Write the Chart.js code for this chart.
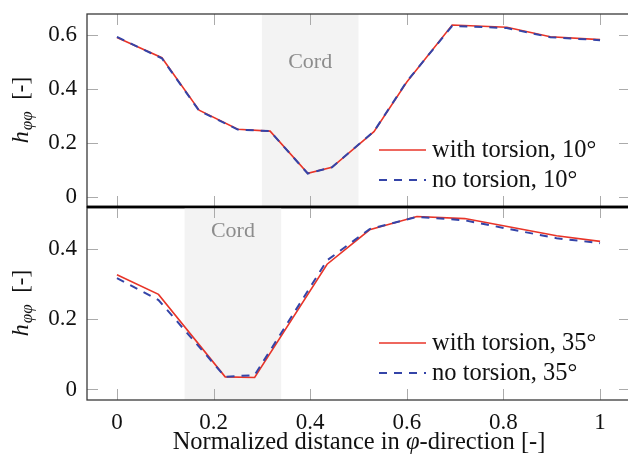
<!DOCTYPE html>
<html>
<head>
<meta charset="utf-8">
<script src="https://cdn.jsdelivr.net/npm/chart.js@4.4.1/dist/chart.umd.min.js"></script>
<style>
  html, body { margin: 0; padding: 0; background: #fff; overflow: hidden; }
  #wrap { position: relative; width: 628px; height: 459px; overflow: hidden; }
  canvas { position: absolute; left: 0; top: 0; }
</style>
</head>
<body>
<div id="wrap">
  <canvas id="topChart" width="632" height="459"></canvas>
  <canvas id="botChart" width="632" height="459"></canvas>
</div>
<script>
// data
const xTop = [0, 0.093, 0.170, 0.250, 0.317, 0.395, 0.445, 0.532, 0.600, 0.694, 0.807, 0.897, 1.0];
const withTorsion10 = [0.591, 0.516, 0.322, 0.251, 0.244, 0.088, 0.110, 0.242, 0.426, 0.637, 0.629, 0.594, 0.583];
const noTorsion10 = [0.593, 0.514, 0.320, 0.250, 0.244, 0.087, 0.110, 0.243, 0.428, 0.634, 0.626, 0.592, 0.581];

const xBot = [0, 0.086, 0.224, 0.285, 0.435, 0.523, 0.621, 0.720, 0.910, 1.0];
const withTorsion35 = [0.327, 0.271, 0.036, 0.034, 0.357, 0.455, 0.493, 0.487, 0.438, 0.422];
const noTorsion35 = [0.317, 0.255, 0.036, 0.041, 0.368, 0.457, 0.492, 0.482, 0.431, 0.417];

const cordTop = [0.30, 0.50];
const cordBot = [0.14, 0.34];
const xTicks = [0, 0.2, 0.4, 0.6, 0.8, 1];

const RED = 'rgb(232, 52, 40)';
const BLUE = 'rgb(52, 68, 168)';
const SERIF = '"Liberation Serif", "DejaVu Serif", serif';

function pts(xs, ys) {
  return xs.map((x, i) => ({ x: x, y: ys[i] }));
}

function dsWith(label, xs, ys) {
  return { label, data: pts(xs, ys), borderColor: RED, backgroundColor: RED,
    borderWidth: 1.6, pointRadius: 0, tension: 0, order: 2 };
}
function dsNo(label, xs, ys) {
  return { label, data: pts(xs, ys), borderColor: BLUE, backgroundColor: BLUE,
    borderWidth: 2, borderDash: [8, 7], pointRadius: 0, tension: 0, order: 1 };
}

// shaded cord band + label
function cordPlugin(range, labelY) {
  return {
    id: 'cord',
    beforeDatasetsDraw(chart) {
      const { ctx, chartArea: a, scales } = chart;
      const x0 = scales.x.getPixelForValue(range[0]);
      const x1 = scales.x.getPixelForValue(range[1]);
      ctx.save();
      ctx.fillStyle = '#f3f3f3';
      ctx.fillRect(x0, a.top, x1 - x0, a.bottom - a.top);
      ctx.fillStyle = '#8c8c8c';
      ctx.font = '22px ' + SERIF;
      ctx.textAlign = 'center';
      ctx.textBaseline = 'middle';
      ctx.fillText('Cord', (x0 + x1) / 2, scales.y.getPixelForValue(labelY));
      ctx.restore();
    }
  };
}

// inward ticks, frame, legend, y label
function decoPlugin(isBottom) {
  return {
    id: 'deco',
    afterDraw(chart) {
      const { ctx, chartArea: a, scales } = chart;
      ctx.save();
      ctx.strokeStyle = '#ababab';
      ctx.lineWidth = 1;
      const len = 11;
      xTicks.forEach(v => {
        const px = Math.round(scales.x.getPixelForValue(v)) + 0.5;
        ctx.beginPath();
        ctx.moveTo(px, a.top); ctx.lineTo(px, a.top + len);
        ctx.moveTo(px, a.bottom); ctx.lineTo(px, a.bottom - len);
        ctx.stroke();
      });
      scales.y.ticks.forEach(t => {
        const py = Math.round(scales.y.getPixelForValue(t.value)) + 0.5;
        ctx.beginPath();
        ctx.moveTo(a.left, py); ctx.lineTo(a.left + len, py);
        ctx.moveTo(a.right, py); ctx.lineTo(a.right - len, py);
        ctx.stroke();
      });

      // frame
      ctx.strokeStyle = '#3a3a3a';
      ctx.lineWidth = 1.3;
      ctx.strokeRect(a.left, a.top, a.right - a.left, a.bottom - a.top);
      ctx.strokeStyle = '#000';
      ctx.lineWidth = 2.6;
      ctx.beginPath();
      const mid = isBottom ? a.top : a.bottom;
      ctx.moveTo(a.left, mid); ctx.lineTo(a.right, mid);
      ctx.stroke();

      // legend
      const rows = [a.bottom - 57, a.bottom - 27];
      chart.data.datasets.forEach((d, i) => {
        const y = rows[i];
        ctx.strokeStyle = d.borderColor;
        ctx.lineWidth = d.borderWidth;
        ctx.setLineDash(d.borderDash || []);
        ctx.beginPath();
        ctx.moveTo(379, y); ctx.lineTo(426, y);
        ctx.stroke();
        ctx.setLineDash([]);
        ctx.fillStyle = '#111';
        ctx.font = '24.5px ' + SERIF;
        ctx.textAlign = 'left';
        ctx.textBaseline = 'middle';
        ctx.fillText(d.label, 432, y + 1);
      });

      // y axis label h_{φφ} [-]
      ctx.translate(21, (a.top + a.bottom) / 2);
      ctx.rotate(-Math.PI / 2);
      ctx.fillStyle = '#111';
      ctx.textBaseline = 'alphabetic';
      const f1 = 'italic 24px ' + SERIF, f2 = 'italic 17px ' + SERIF, f3 = '23px ' + SERIF;
      ctx.font = f1; const w1 = ctx.measureText('h').width;
      ctx.font = f2; const w2 = ctx.measureText('φφ').width;
      ctx.font = f3; const w3 = ctx.measureText('  [-]').width;
      let x = -(w1 + w2 + w3) / 2;
      const base = 7;
      ctx.font = f1; ctx.fillText('h', x, base); x += w1 + 1;
      ctx.font = f2; ctx.fillText('φφ', x, base + 4); x += w2;
      ctx.font = f3; ctx.fillText('  [-]', x, base);
      ctx.restore();

      if (isBottom) {
        // x axis title
        ctx.save();
        ctx.fillStyle = '#111';
        ctx.textBaseline = 'alphabetic';
        const parts = [['Normalized distance in ', '24.5px '], ['φ', 'italic 24.5px '], ['-direction [-]', '24.5px ']];
        let total = 0;
        parts.forEach(p => { ctx.font = p[1] + SERIF; total += ctx.measureText(p[0]).width; });
        let px = 359 - total / 2;
        parts.forEach(p => {
          ctx.font = p[1] + SERIF;
          ctx.fillText(p[0], px, 449);
          px += ctx.measureText(p[0]).width;
        });
        ctx.restore();
      }
    }
  };
}

function makeOptions(isBottom, yMin, yMax) {
  return {
    responsive: false,
    animation: false,
    layout: { padding: isBottom ? { top: 207, right: 2, bottom: 0, left: 0 }
                                : { top: 14, right: 2, bottom: 252, left: 0 } },
    plugins: { legend: { display: false }, tooltip: { enabled: false } },
    scales: {
      x: {
        type: 'linear', min: -0.062, max: 1.062,
        grid: { display: false, drawTicks: false },
        border: { display: false },
        afterBuildTicks: s => { s.ticks = xTicks.map(v => ({ value: v })); },
        ticks: { display: isBottom, padding: 9, color: '#111', maxRotation: 0,
                 font: { family: SERIF, size: 23 },
                 callback: v => String(v) },
        afterFit: s => {
          s.height = isBottom ? 59 : 0;
          s.paddingLeft = 0; s.paddingRight = 0;
        }
      },
      y: {
        min: yMin, max: yMax,
        grid: { display: false, drawTicks: false },
        border: { display: false },
        ticks: { stepSize: 0.2, includeBounds: false, padding: 10, color: '#111',
                 font: { family: SERIF, size: 23 },
                 callback: v => String(Math.round(v * 10) / 10) },
        afterFit: s => {
          s.width = 87;
          s.paddingTop = 0; s.paddingBottom = 0;
        }
      }
    }
  };
}

new Chart(document.getElementById('topChart'), {
  type: 'line',
  data: { datasets: [
    dsWith('with torsion, 10°', xTop, withTorsion10),
    dsNo('no torsion, 10°', xTop, noTorsion10)
  ] },
  options: makeOptions(false, -0.037, 0.678),
  plugins: [cordPlugin(cordTop, 0.5), decoPlugin(false)]
});

new Chart(document.getElementById('botChart'), {
  type: 'line',
  data: { datasets: [
    dsWith('with torsion, 35°', xBot, withTorsion35),
    dsNo('no torsion, 35°', xBot, noTorsion35)
  ] },
  options: makeOptions(true, -0.03, 0.52),
  plugins: [cordPlugin(cordBot, 0.45), decoPlugin(true)]
});
</script>
</body>
</html>
